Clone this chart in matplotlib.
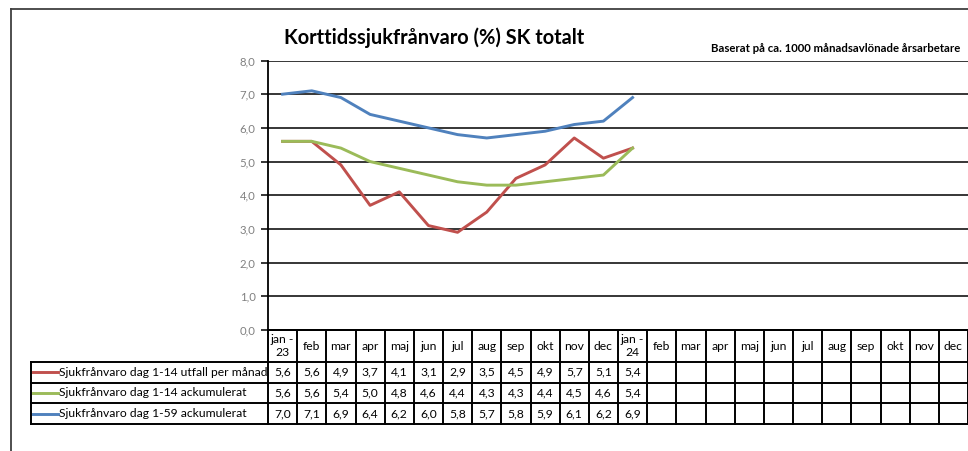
import matplotlib
matplotlib.use('Agg')
import matplotlib.pyplot as plt
from matplotlib.lines import Line2D

# ---------------- data ----------------
title = 'Korttidssjukfrånvaro (%) SK totalt'
subtitle = 'Baserat på ca. 1000 månadsavlönade årsarbetare'
columns = ['jan -\n23', 'feb', 'mar', 'apr', 'maj', 'jun', 'jul', 'aug', 'sep', 'okt', 'nov', 'dec',
           'jan -\n24', 'feb', 'mar', 'apr', 'maj', 'jun', 'jul', 'aug', 'sep', 'okt', 'nov', 'dec']
series_names = ['Sjukfrånvaro dag 1-14 utfall per månad',
                'Sjukfrånvaro dag 1-14 ackumulerat',
                'Sjukfrånvaro dag 1-59 ackumulerat']
utfall_1_14 = [5.6, 5.6, 4.9, 3.7, 4.1, 3.1, 2.9, 3.5, 4.5, 4.9, 5.7, 5.1, 5.4]
ack_1_14 = [5.6, 5.6, 5.4, 5.0, 4.8, 4.6, 4.4, 4.3, 4.3, 4.4, 4.5, 4.6, 5.4]
ack_1_59 = [7.0, 7.1, 6.9, 6.4, 6.2, 6.0, 5.8, 5.7, 5.8, 5.9, 6.1, 6.2, 6.9]
y_ticks = [0, 1, 2, 3, 4, 5, 6, 7, 8]

series = [utfall_1_14, ack_1_14, ack_1_59]
colors = ['#C0504D', '#9BBB59', '#4F81BD']

# ---------------- layout ----------------
W, H = 968, 451
DPI = 100
FONT = 'Lato'
plt.rcParams['font.family'] = [FONT, 'DejaVu Sans']
TFS = 8.7

fig = plt.figure(figsize=(W / DPI, H / DPI), dpi=DPI)
fig.patch.set_facecolor('white')

plot_left, plot_right = 268, 968
plot_top, plot_bottom = 60.5, 330
ncol = len(columns)
colw = (plot_right - plot_left) / ncol

ax = fig.add_axes([plot_left / W, 1 - plot_bottom / H,
                   (plot_right - plot_left) / W, (plot_bottom - plot_top) / H])
ax.set_xlim(-0.5, ncol - 0.5)
ax.set_ylim(0, 8)
for s, c in zip(series, colors):
    ax.plot(range(len(s)), s, color=c, lw=2.1, solid_joinstyle='round', zorder=3)
ax.set_yticks(y_ticks)
ax.set_yticklabels([f'{v:.1f}'.replace('.', ',') for v in y_ticks])
ax.tick_params(axis='y', length=5, width=1.1, color='black', labelcolor='#808080',
               labelsize=8.2, pad=4, direction='out')
ax.set_xticks([])
ax.yaxis.grid(True, color='black', lw=1.1)
ax.set_axisbelow(True)
for sp in ['top', 'right']:
    ax.spines[sp].set_visible(False)
ax.spines['left'].set_linewidth(1.3)
ax.spines['bottom'].set_linewidth(1.3)

# ---------------- data table ----------------
tab_top, tab_bottom = 330, 424
tax = fig.add_axes([plot_left / W, 1 - tab_bottom / H,
                    (plot_right - plot_left) / W, (tab_bottom - tab_top) / H])
tax.set_xlim(-0.5, ncol - 0.5)
tax.set_ylim(tab_bottom - tab_top, 0)
tax.axis('off')


def px2x(px):
    return (px - plot_left) / colw - 0.5


header_h = 32
row_h = (tab_bottom - tab_top - header_h) / len(series)
lw_t = 1.4
leg_left = px2x(31)

# vertical lines
for k in range(ncol + 1):
    tax.add_line(Line2D([k - 0.5, k - 0.5], [0, tab_bottom - tab_top], color='black', lw=lw_t, clip_on=False))
tax.add_line(Line2D([leg_left, leg_left], [header_h, tab_bottom - tab_top], color='black', lw=lw_t, clip_on=False))
# horizontal lines
tax.add_line(Line2D([-0.5, ncol - 0.5], [0, 0], color='black', lw=lw_t, clip_on=False))
for r in range(len(series) + 1):
    y = header_h + r * row_h
    tax.add_line(Line2D([leg_left, ncol - 0.5], [y, y], color='black', lw=lw_t, clip_on=False))

# header text
for i, lab in enumerate(columns):
    tax.text(i, header_h / 2, lab, ha='center', va='center', fontsize=TFS, color='black',
             linespacing=1.25, clip_on=False)

# rows
for r, (name, s, c) in enumerate(zip(series_names, series, colors)):
    yc = header_h + (r + 0.5) * row_h
    tax.add_line(Line2D([px2x(33), px2x(58)], [yc, yc], color=c, lw=2.1, clip_on=False))
    tax.text(px2x(59), yc, name, ha='left', va='center', fontsize=TFS, color='black', clip_on=False)
    for i, v in enumerate(s):
        tax.text(i, yc, f'{v:.1f}'.replace('.', ','), ha='center', va='center', fontsize=TFS,
                 color='black', clip_on=False)

# ---------------- titles & frame ----------------
fig.text(434 / W, 1 - 38 / H, title, ha='center', va='center', fontsize=14.4, fontweight='bold')
fig.text(960 / W, 1 - 48 / H, subtitle, ha='right', va='center', fontsize=8.2, fontweight='bold')

fig.add_artist(Line2D([11 / W, 11 / W], [0, 1 - 9.3 / H], color='#404040', lw=1.3,
                      transform=fig.transFigure))
fig.add_artist(Line2D([11 / W, 1], [1 - 9.3 / H, 1 - 9.3 / H], color='#404040', lw=1.3,
                      transform=fig.transFigure))

fig.savefig('out.png', dpi=DPI, facecolor='white')
